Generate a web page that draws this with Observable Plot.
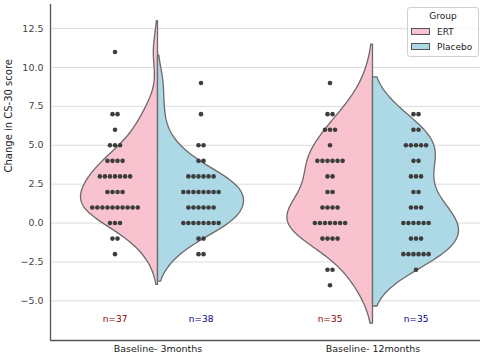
<!DOCTYPE html>
<html>
<head>
<meta charset="utf-8">
<script src="https://cdn.jsdelivr.net/npm/d3@7"></script>
<script src="https://cdn.jsdelivr.net/npm/@observablehq/plot@0.6"></script>
<style>
  body { margin: 0; background: #fff; }
  #wrap { position: relative; width: 482px; height: 356px; font-family: "DejaVu Sans", sans-serif; }
  #legend { position: absolute; left: 407px; top: 7px; width: 72px; height: 50px; border: 1px solid #d0d0d0; border-radius: 3px; background: rgba(255,255,255,0.85); box-sizing: border-box; font-size: 9px; color: #222; }
  #legend .title { text-align: center; margin-top: 3px; height: 13px; }
  #legend .row { display: flex; align-items: center; height: 15px; padding-left: 3px; }
  #legend .sw { width: 19px; height: 7px; border: 1px solid #555; margin-right: 7px; box-sizing: border-box; }
</style>
</head>
<body>
<div id="wrap"></div>
<script>
const categories = ["Baseline- 3months", "Baseline- 12months"];
const groups = ["ERT", "Placebo"];
const groupColors = ["#F8C3CE", "#ADD8E6"];
const labelColors = ["#8B0000", "#00008B"];
const nLabels = [["n=37", "n=38"], ["n=35", "n=35"]];
const yTicks = [-5, -2.5, 0, 2.5, 5, 7.5, 10, 12.5];

// score values (integer changes) and how many patients share each value
const ert3Values    = [11, 7, 6, 5, 4, 3, 2, 1, 0, -1, -2];
const ert3Counts    = [ 1, 2, 1, 3, 4, 7, 4, 10, 3, 2, 1];
const placebo3Values = [9, 7, 5, 4, 3, 2, 1, 0, -1, -2];
const placebo3Counts = [1, 1, 2, 2, 6, 8, 6, 8, 2, 2];
const ert12Values    = [9, 7, 6, 5, 4, 3, 2, 1, 0, -1, -3, -4];
const ert12Counts    = [1, 2, 3, 1, 6, 2, 2, 4, 7, 4, 2, 1];
const placebo12Values = [7, 6, 5, 4, 3, 2, 1, 0, -1, -2, -3];
const placebo12Counts = [2, 2, 5, 2, 3, 2, 3, 6, 3, 6, 1];

const sets = [
  [[ert3Values, ert3Counts], [placebo3Values, placebo3Counts]],
  [[ert12Values, ert12Counts], [placebo12Values, placebo12Counts]]
];

function expand(vals, counts) {
  const out = [];
  vals.forEach((v, i) => { for (let k = 0; k < counts[i]; k++) out.push(v); });
  return out;
}
function kde(data) {
  const n = data.length;
  const sd = d3.deviation(data);
  const bw = Math.pow(n, -0.2) * sd;
  const cut = 1.6;
  const lo = d3.min(data) - cut * bw, hi = d3.max(data) + cut * bw;
  const pts = [];
  const N = 150;
  for (let i = 0; i <= N; i++) {
    const y = lo + (hi - lo) * i / N;
    let s = 0;
    for (const v of data) { const z = (y - v) / bw; s += Math.exp(-0.5 * z * z); }
    pts.push({y, d: s / (n * bw * Math.sqrt(2 * Math.PI))});
  }
  return pts;
}

const violins = [], dots = [], labels = [];
sets.forEach((pair, ci) => {
  const dens = pair.map(([v, c]) => kde(expand(v, c)));
  const maxD = d3.max(dens.flat(), p => p.d);
  pair.forEach(([vals, counts], gi) => {
    const side = gi === 0 ? -1 : 1;
    dens[gi].forEach(p => violins.push({key: ci + "-" + gi, group: groups[gi], y: p.y, x1: ci, x2: ci + side * 0.4 * p.d / maxD}));
    vals.forEach((v, i) => {
      const k = counts[i];
      for (let j = 0; j < k; j++) dots.push({x: ci + side * 0.2 + (j - (k - 1) / 2) * 0.0235, y: v});
    });
    labels.push({x: ci + side * 0.2, y: -6.2, text: nLabels[ci][gi], color: labelColors[gi]});
  });
});

const chart = Plot.plot({
  width: 482, height: 356,
  marginLeft: 50, marginRight: 2, marginTop: 4, marginBottom: 16,
  style: {fontFamily: "DejaVu Sans, sans-serif", fontSize: "9.5px", color: "#333", background: "white"},
  x: {domain: [-0.5, 1.5], axis: null},
  y: {domain: [-7.55, 14.05], axis: null},
  marks: [
    Plot.gridY(yTicks, {stroke: "#dcdcdc", strokeOpacity: 1, strokeWidth: 1}),
    Plot.areaX(violins, {y: "y", x1: "x1", x2: "x2", z: "key", fill: d => d.group === "ERT" ? groupColors[0] : groupColors[1], stroke: "#6b6b6b", strokeWidth: 1.3, curve: "linear"}),
    Plot.dot(dots, {x: "x", y: "y", r: 2.3, fill: "#3d3d3d", stroke: "none"}),
    Plot.text(labels, {x: "x", y: "y", text: "text", fill: "color", fontSize: 9}),
    Plot.axisY(yTicks, {tickSize: 0, tickPadding: 7, tickFormat: d3.format(".1f"), label: null, fontSize: 9.5, fill: "#444"}),
    Plot.axisX([0, 1], {tickSize: 0, tickPadding: 5, tickFormat: i => categories[i], label: null, fontSize: 9.5, fill: "#222"}),
    Plot.text(["Change in CS-30 score"], {frameAnchor: "left", dx: -42, rotate: -90, fontSize: 10, fill: "#222"}),
    Plot.ruleX([-0.5], {stroke: "#555", strokeWidth: 1.3}),
    Plot.ruleY([-7.55], {stroke: "#555", strokeWidth: 1.3})
  ]
});
const wrap = document.getElementById("wrap");
wrap.appendChild(chart);
const leg = document.createElement("div");
leg.id = "legend";
leg.innerHTML = `<div class="title">Group</div>` + groups.map((g, i) =>
  `<div class="row"><div class="sw" style="background:${groupColors[i]}"></div>${g}</div>`).join("");
wrap.appendChild(leg);
</script>
</body>
</html>
